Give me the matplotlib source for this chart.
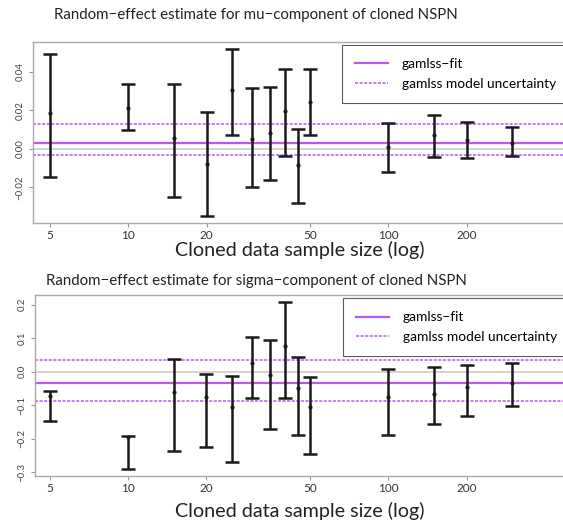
import numpy as np
import matplotlib
matplotlib.use("Agg")
import matplotlib.pyplot as plt
from matplotlib.ticker import FixedLocator, NullLocator, FixedFormatter

plt.rcParams['font.family'] = ['Lato', 'DejaVu Sans']

# cloned sample sizes
sizes = [5, 10, 15, 20, 25, 30, 35, 40, 45, 50, 100, 150, 200, 300]

# mu-component random effect estimates
mu_est = [0.0185, 0.0213, 0.0056, -0.0080, 0.0305, 0.0052, 0.0081, 0.0196, -0.0085, 0.0246, 0.0009, 0.0071, 0.0047, 0.0033]
mu_lo = [-0.0147, 0.0100, -0.0248, -0.0346, 0.0073, -0.0197, -0.0159, -0.0036, -0.0281, 0.0074, -0.0118, -0.0040, -0.0047, -0.0038]
mu_hi = [0.0494, 0.0336, 0.0336, 0.0194, 0.0521, 0.0315, 0.0322, 0.0417, 0.0102, 0.0416, 0.0133, 0.0178, 0.0140, 0.0113]
mu_fit = 0.0033
mu_band = [-0.0031, 0.0130]

# sigma-component random effect estimates
sig_est = [-0.0725, -0.196, -0.0616, -0.0746, -0.105, 0.025, -0.0108, 0.0776, -0.0487, -0.105, -0.0755, -0.0675, -0.0457, -0.033]
sig_lo = [-0.148, -0.290, -0.236, -0.223, -0.269, -0.0776, -0.171, -0.0776, -0.189, -0.245, -0.188, -0.156, -0.131, -0.102]
sig_hi = [-0.0586, -0.191, 0.039, -0.006, -0.0139, 0.103, 0.0946, 0.208, 0.044, -0.0158, 0.007, 0.014, 0.019, 0.026]
sig_fit = -0.033
sig_band = [-0.0875, 0.036]

xticks = [5, 10, 20, 50, 100, 200]
purple = '#A020F0'

fig = plt.figure(figsize=(5.63, 5.23), dpi=100)


def panel(rect, xlim, ylim, est, lo, hi, fit, band, yticks, ylabels, title, title_y, xlab_y):
    ax = fig.add_axes(rect)
    est = np.array(est)
    yerr = [est - np.array(lo), np.array(hi) - est]
    ax.axhline(0, color='#cccccc', lw=1.2, zorder=1)
    ax.axhline(fit, color=purple, lw=1.6, alpha=0.75, zorder=2, label='gamlss\u2212fit')
    for i, b in enumerate(band):
        ax.axhline(b, color=purple, lw=1.1, ls=(0, (2, 1)), alpha=0.75, zorder=2,
                   label='gamlss model uncertainty' if i == 0 else None)
    ax.errorbar(sizes, est, yerr=yerr, fmt='o', ms=2, color='#1a1a1a', ecolor='#1a1a1a',
                elinewidth=1.8, capsize=5, capthick=1.8, zorder=3)
    ax.set_xscale('log')
    ax.set_xlim(*xlim)
    ax.set_ylim(*ylim)
    ax.xaxis.set_major_locator(FixedLocator(xticks))
    ax.xaxis.set_major_formatter(FixedFormatter([str(t) for t in xticks]))
    ax.xaxis.set_minor_locator(NullLocator())
    ax.set_yticks(yticks)
    ax.set_yticklabels(ylabels, rotation=90, va='center')
    ax.tick_params(axis='x', labelsize=8.5, colors='#333333', length=3, color='#999999', pad=2)
    ax.tick_params(axis='y', labelsize=7, colors='#444444', length=3, color='#999999', pad=3)
    for s in ax.spines.values():
        s.set_color('#aaaaaa')
        s.set_linewidth(1.0)
    leg = ax.legend(loc='upper left', bbox_to_anchor=(0.555, 0.982), fontsize=9.9,
                    frameon=True, fancybox=False, edgecolor='#333333', handlelength=2.4,
                    borderpad=0.95, labelspacing=0.55, handletextpad=1.0, borderaxespad=0)
    leg.get_frame().set_linewidth(0.8)
    fig.text(0.455, title_y, title, ha='center', va='center', fontsize=10.8, color='#222222')
    fig.text(300 / 563, xlab_y, 'Cloned data sample size (log)', ha='center', va='center',
             fontsize=14.2, color='#222222')
    return ax


panel([33 / 563, 1 - 222.7 / 523, (590 - 33) / 563, (222.7 - 41.7) / 523],
      (4.30, 597), (-0.0383, 0.0557), mu_est, mu_lo, mu_hi, mu_fit, mu_band,
      [-0.02, 0.0, 0.02, 0.04], ['\u22120.02', '0.00', '0.02', '0.04'],
      'Random\u2212effect estimate for mu\u2212component of cloned NSPN',
      1 - 15 / 523, 1 - 250 / 523)

panel([35 / 563, 1 - 475.7 / 523, (590 - 35) / 563, (475.7 - 295) / 523],
      (4.38, 597), (-0.310, 0.229), sig_est, sig_lo, sig_hi, sig_fit, sig_band,
      [-0.3, -0.2, -0.1, 0.0, 0.1, 0.2], ['\u22120.3', '\u22120.2', '\u22120.1', '0.0', '0.1', '0.2'],
      'Random\u2212effect estimate for sigma\u2212component of cloned NSPN',
      1 - 281 / 523, 1 - 511 / 523)

fig.savefig('out.png', dpi=100)
